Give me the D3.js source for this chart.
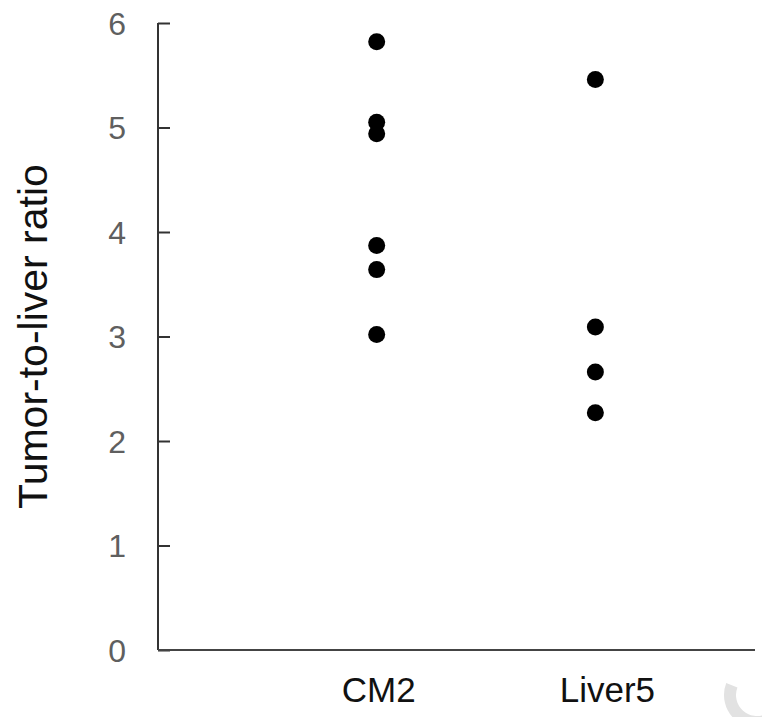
<!DOCTYPE html>
<html lang="en">
<head>
    <meta charset="UTF-8">
    <title>Tumor-to-liver ratio</title>
    <script src="https://d3js.org/d3.v7.min.js"></script>
    <style>
        body { margin: 0; background: #fff; }
        text { font-family: "Liberation Sans", Arial, sans-serif; }
    </style>
</head>
<body>
<svg width="762" height="717"></svg>
<script>
    // data
    const categories = ["CM2", "Liver5"];
    const cm2_values = [5.82, 5.05, 4.94, 3.87, 3.64, 3.02];
    const liver5_values = [5.46, 3.09, 2.66, 2.27];
    const y_ticks = [0, 1, 2, 3, 4, 5, 6];

    const series = [cm2_values, liver5_values];

    let svg = d3.select("svg");

    let x = d3.scaleLinear().domain([0, 2.73]).range([158, 755]);
    let y = d3.scaleLinear().domain([0, 6]).range([650, 23]);

    // y axis, ticks pointing inward
    let yAxis = d3.axisRight(y).tickValues(y_ticks).tickSize(12).tickFormat("");
    let gy = svg.append("g").attr("transform", "translate(158,0)").call(yAxis);
    gy.select(".domain").attr("stroke", "#333").attr("stroke-width", 2).attr("d", "M0," + y(6) + "V" + y(0));
    gy.selectAll(".tick line").attr("stroke", "#333").attr("stroke-width", 2);

    svg.append("g").selectAll("text")
        .data(y_ticks)
        .enter()
        .append("text")
        .attr("x", 126)
        .attr("y", d => y(d))
        .attr("dy", "0.36em")
        .attr("text-anchor", "end")
        .attr("font-size", "32px")
        .attr("fill", "#5f5f5f")
        .text(d => d);

    // x axis line
    svg.append("line")
        .attr("x1", x(0)).attr("x2", x.range()[1])
        .attr("y1", y(0)).attr("y2", y(0))
        .attr("stroke", "#444").attr("stroke-width", 2);

    svg.append("g").selectAll("text")
        .data(categories)
        .enter()
        .append("text")
        .attr("x", (d, i) => x(i + 1) + (i === 1 ? 12 : 2))
        .attr("y", 702)
        .attr("text-anchor", "middle")
        .attr("font-size", "35px")
        .attr("fill", "#111")
        .text(d => d);

    svg.append("text")
        .attr("transform", "translate(47," + y(3.0) + ") rotate(-90)")
        .attr("text-anchor", "middle")
        .attr("font-size", "41px")
        .attr("fill", "#111")
        .text("Tumor-to-liver ratio");

    // dots
    series.forEach(function (vals, i) {
        svg.append("g").selectAll("circle")
            .data(vals)
            .enter()
            .append("circle")
            .attr("cx", x(i + 1))
            .attr("cy", d => y(d))
            .attr("r", 8.5)
            .attr("fill", "#000");
    });

    // faint watermark arc in the corner
    let arc = d3.arc().innerRadius(21).outerRadius(33).startAngle(-1.2).endAngle(-3.6);
    svg.append("path")
        .attr("transform", "translate(757,695)")
        .attr("d", arc())
        .attr("fill", "#e2e2e2");
</script>
</body>
</html>
